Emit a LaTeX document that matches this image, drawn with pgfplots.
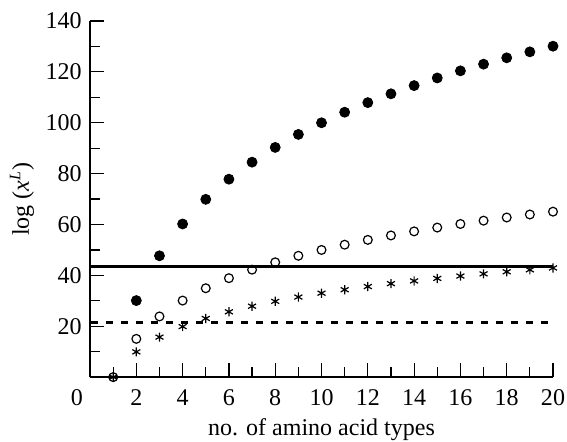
\documentclass[border=0pt]{standalone}
\usepackage{fontspec}
\setmainfont{Liberation Serif}
\usepackage{pgfplots}
\pgfplotsset{compat=1.18}

\begin{document}
\fontsize{12}{14}\selectfont
\begin{tikzpicture}
\begin{axis}[
  scale only axis, width=231.4pt, height=178pt,
  xmin=0, xmax=20, ymin=0, ymax=140,
  axis x line*=bottom, axis y line*=left,
  axis line style={line width=1.15pt},
  xtick={0,2,...,20}, minor xtick={1,3,...,19},
  xticklabels={{\makebox[0pt][r]{0\hspace{3.6pt}}},2,4,6,8,10,12,14,16,18,20},
  ytick={20,40,...,140}, minor ytick={10,30,...,130},
  tick align=inside,
  major tick length=7pt, minor tick length=5pt,
  tick style={line width=0.6pt, black},
  ticklabel style={font=\fontsize{12}{14}\selectfont},
  /pgf/number format/assume math mode=true,
  xticklabel style={anchor=base, yshift=-14pt},
  xlabel={no. of amino acid types},
  ylabel={log (\textit{x}\textsuperscript{\textit{L}})},
  xlabel style={at={(axis description cs:0.5,-0.163)}, anchor=base, font=\fontsize{12}{14}\selectfont},
  ylabel style={at={(axis description cs:-0.147,0.5)}, anchor=center, font=\fontsize{12}{14}\selectfont},
  clip=false,
]
\addplot[black, line width=1.3pt] coordinates {(0,43.5) (20,43.5)};
\addplot[black, line width=1.3pt, dash pattern=on 3.3pt off 4.2pt] coordinates {(0.05,21.5) (19.92,21.5)};
\addplot[only marks, mark=*, mark size=2.5pt, black] coordinates {
(2,30.10) (3,47.71) (4,60.21) (5,69.90) (6,77.82) (7,84.51) (8,90.31) (9,95.42) (10,100.00)
(11,104.14) (12,107.92) (13,111.39) (14,114.61) (15,117.61) (16,120.41) (17,123.04) (18,125.53) (19,127.88) (20,130.10)};
\addplot[only marks, mark=o, mark size=2.2pt, black, mark options={line width=0.6pt}] coordinates {
(1,0) (2,15.05) (3,23.86) (4,30.10) (5,34.95) (6,38.91) (7,42.25) (8,45.15) (9,47.71) (10,50.00)
(11,52.07) (12,53.96) (13,55.70) (14,57.30) (15,58.80) (16,60.21) (17,61.52) (18,62.76) (19,63.94) (20,65.05)};
\addplot[only marks, mark=asterisk, mark size=2.3pt, black, mark options={line width=0.6pt}] coordinates {
(1,0) (2,9.93) (3,15.74) (4,19.87) (5,23.07) (6,25.68) (7,27.89) (8,29.80) (9,31.49) (10,33.00)
(11,34.37) (12,35.61) (13,36.76) (14,37.82) (15,38.81) (16,39.74) (17,40.60) (18,41.42) (19,42.20) (20,42.93)};
\end{axis}
\pgfresetboundingbox
\path ([xshift=-45pt,yshift=-32pt]current axis.origin) rectangle ([xshift=231.4pt+7pt,yshift=178pt+10.5pt]current axis.origin);
\end{tikzpicture}
\end{document}
